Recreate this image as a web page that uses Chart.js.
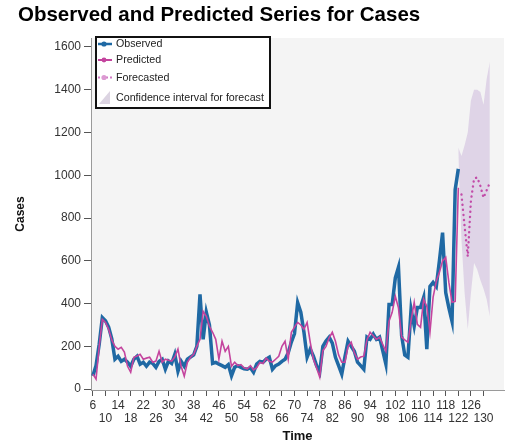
<!DOCTYPE html>
<html>
<head>
<meta charset="utf-8">
<script src="https://cdn.jsdelivr.net/npm/chart.js@4.4.1/dist/chart.umd.min.js"></script>
<style>
  html, body { margin: 0; padding: 0; background: #ffffff; }
  #wrap { position: relative; width: 509px; height: 444px; }
</style>
</head>
<body>
<div id="wrap"><canvas id="chart" width="509" height="444"></canvas></div>
<script>
const chartTitle = "Observed and Predicted Series for Cases";
const legendLabels = ["Observed", "Predicted", "Forecasted", "Confidence interval for forecast"];

const xTickValues = [6, 10, 14, 18, 22, 26, 30, 34, 38, 42, 46, 50, 54, 58, 62, 66, 70, 74, 78, 82, 86, 90, 94, 98, 102, 106, 110, 114, 118, 122, 126, 130];
const yTickValues = [0, 200, 400, 600, 800, 1000, 1200, 1400, 1600];

const timeSteps = [
  6, 7, 8, 9, 10, 11, 12, 13, 14, 15, 16, 17, 18, 19, 20, 21, 22, 23, 24, 25,
  26, 27, 28, 29, 30, 31, 32, 33, 34, 35, 36, 37, 38, 39, 40, 41, 42, 43, 44, 45,
  46, 47, 48, 49, 50, 51, 52, 53, 54, 55, 56, 57, 58, 59, 60, 61, 62, 63, 64, 65,
  66, 67, 68, 69, 70, 71, 72, 73, 74, 75, 76, 77, 78, 79, 80, 81, 82, 83, 84, 85,
  86, 87, 88, 89, 90, 91, 92, 93, 94, 95, 96, 97, 98, 99, 100, 101, 102, 103, 104, 105,
  106, 107, 108, 109, 110, 111, 112, 113, 114, 115, 116, 117, 118, 119, 120, 121, 122
];

const observedCases = [
  62, 110, 210, 335, 320, 290, 235, 140, 154, 130, 140, 126, 107, 140, 154, 117, 126, 107, 126, 120,
  102, 130, 140, 93, 131, 120, 163, 84, 131, 107, 140, 150, 160, 200, 443, 233, 360, 300, 120, 125,
  117, 110, 102, 115, 62, 102, 110, 102, 95, 93, 100, 79, 117, 130, 126, 140, 149, 93, 110, 117,
  130, 140, 170, 220, 260, 405, 360, 266, 149, 187, 154, 110, 79, 200, 225, 243, 215, 149, 110, 70,
  150, 224, 200, 177, 126, 110, 93, 243, 233, 257, 233, 243, 180, 117, 396, 396, 520, 570, 250, 160,
  149, 373, 295, 382, 382, 429, 187, 480, 499, 480, 600, 732, 452, 380, 317, 933, 1030
];

const predictedCases = [
  70, 47, 200, 326, 312, 280, 230, 200, 187, 196, 173, 107, 79, 149, 155, 163, 140, 145, 149, 126,
  131, 177, 126, 140, 135, 131, 150, 187, 107, 61, 126, 149, 163, 200, 233, 364, 341, 294, 266, 233,
  140, 224, 177, 200, 107, 126, 110, 115, 100, 95, 110, 90, 100, 125, 120, 145, 130, 126, 140, 154,
  200, 224, 140, 266, 290, 312, 300, 280, 312, 219, 140, 100, 56, 180, 200, 240, 266, 224, 160, 126,
  126, 200, 219, 170, 140, 150, 154, 230, 266, 250, 233, 243, 210, 177, 317, 359, 434, 380, 243, 230,
  219, 320, 406, 303, 289, 420, 387, 266, 430, 504, 546, 600, 616, 499, 406, 410, 942
];

const forecastTimes = [123, 124, 125, 126, 127, 128, 129, 130, 131, 132];
const forecastCases = [910, 760, 620, 880, 985, 990, 950, 895, 930, 965];

const bandTimes = [122, 123, 124, 125, 126, 127, 128, 129, 130, 131, 132];
const bandLower = [1100, 700, 450, 280, 450, 590, 560, 510, 470, 420, 340];
const bandUpper = [1130, 1090, 1140, 1200, 1350, 1400, 1400, 1390, 1330, 1450, 1530];

const BLUE = "#1f69a4";
const PINK = "#c4449e";
const DOT_PINK = "#c24ca8";
const BAND = "rgba(218, 206, 228, 0.85)";
const FONT = "'Liberation Sans', Arial, sans-serif";

function toPoints(xs, ys) {
  return xs.map((x, i) => ({ x: x, y: ys[i] }));
}

const plotBackground = {
  id: "plotBackground",
  beforeDraw(chart) {
    const { ctx, chartArea } = chart;
    ctx.save();
    ctx.fillStyle = "#f4f4f4";
    ctx.fillRect(chartArea.left, chartArea.top, chartArea.right - chartArea.left, chartArea.bottom - chartArea.top);
    ctx.restore();
  }
};

const titleAndLegend = {
  id: "titleAndLegend",
  afterDraw(chart) {
    const ctx = chart.ctx;
    ctx.save();

    // title
    ctx.fillStyle = "#000000";
    ctx.font = "bold 20.5px " + FONT;
    ctx.textBaseline = "middle";
    ctx.textAlign = "left";
    ctx.fillText(chartTitle, 18, 15);

    // legend box
    const left = 96, top = 37, width = 174, height = 71;
    ctx.fillStyle = "#ffffff";
    ctx.fillRect(left, top, width, height);
    ctx.strokeStyle = "#111111";
    ctx.lineWidth = 2;
    ctx.strokeRect(left, top, width, height);

    const rows = [44, 60, 77.5, 97.5];
    const sx0 = 98, sx1 = 112, mx = 104;

    ctx.lineWidth = 2.5;
    ctx.strokeStyle = BLUE;
    ctx.beginPath(); ctx.moveTo(sx0, rows[0]); ctx.lineTo(sx1, rows[0]); ctx.stroke();
    ctx.fillStyle = BLUE;
    ctx.beginPath(); ctx.arc(mx, rows[0], 2.6, 0, Math.PI * 2); ctx.fill();

    ctx.strokeStyle = PINK;
    ctx.lineWidth = 2;
    ctx.beginPath(); ctx.moveTo(sx0, rows[1]); ctx.lineTo(sx1, rows[1]); ctx.stroke();
    ctx.fillStyle = PINK;
    ctx.beginPath(); ctx.arc(mx, rows[1], 2.4, 0, Math.PI * 2); ctx.fill();

    ctx.strokeStyle = "#d27ac6";
    ctx.setLineDash([2, 2]);
    ctx.beginPath(); ctx.moveTo(sx0, rows[2]); ctx.lineTo(sx1, rows[2]); ctx.stroke();
    ctx.setLineDash([]);
    ctx.fillStyle = "#dc9ad2";
    ctx.beginPath(); ctx.arc(mx, rows[2], 2.6, 0, Math.PI * 2); ctx.fill();

    ctx.fillStyle = "#dcd4e2";
    ctx.beginPath();
    ctx.moveTo(99, 104); ctx.lineTo(110, 104); ctx.lineTo(110, 91); ctx.closePath();
    ctx.fill();

    ctx.fillStyle = "#222222";
    ctx.font = "10.7px " + FONT;
    legendLabels.forEach((label, i) => {
      ctx.fillText(label, 116, rows[i] + 0.5);
    });

    ctx.restore();
  }
};

const ctx = document.getElementById("chart");

new Chart(ctx, {
  type: "line",
  data: {
    datasets: [
      {
        label: "lower",
        data: toPoints(bandTimes, bandLower),
        borderWidth: 0,
        borderColor: "rgba(0,0,0,0)",
        pointRadius: 0,
        fill: false,
        tension: 0,
        order: 6
      },
      {
        label: legendLabels[3],
        data: toPoints(bandTimes, bandUpper),
        borderWidth: 0,
        borderColor: "rgba(0,0,0,0)",
        backgroundColor: BAND,
        pointRadius: 0,
        fill: "-1",
        tension: 0,
        order: 5
      },
      {
        label: legendLabels[0],
        data: toPoints(timeSteps, observedCases),
        borderColor: BLUE,
        borderWidth: 3.5,
        pointRadius: 0,
        tension: 0,
        order: 3
      },
      {
        label: legendLabels[1],
        data: toPoints(timeSteps, predictedCases),
        borderColor: PINK,
        borderWidth: 1.6,
        pointRadius: 0,
        tension: 0,
        order: 2
      },
      {
        label: legendLabels[2],
        data: toPoints(forecastTimes, forecastCases),
        borderColor: DOT_PINK,
        borderWidth: 2.4,
        borderDash: [0.1, 5],
        borderCapStyle: "round",
        pointRadius: 0,
        tension: 0,
        order: 1
      }
    ]
  },
  options: {
    responsive: false,
    animation: false,
    layout: {
      padding: { top: 38, right: 5, bottom: 0, left: 0 }
    },
    plugins: {
      legend: { display: false },
      title: { display: false },
      tooltip: { enabled: false }
    },
    scales: {
      x: {
        type: "linear",
        min: 5.4,
        max: 136.5,
        afterBuildTicks: scale => {
          scale.ticks = xTickValues.map(v => ({ value: v }));
        },
        afterFit: scale => {
          scale.height = 54;
        },
        ticks: {
          autoSkip: false,
          maxRotation: 0,
          minRotation: 0,
          padding: 3,
          color: "#333333",
          font: { family: FONT, size: 12, lineHeight: 1.1 },
          callback: function (value, index) {
            return index % 2 === 0 ? String(value) : ["", String(value)];
          }
        },
        grid: {
          drawOnChartArea: false,
          drawTicks: true,
          tickLength: 6,
          tickWidth: 1,
          tickColor: "#555555"
        },
        border: { display: true, color: "#9a9a9a", width: 1 },
        title: {
          display: true,
          text: "Time",
          color: "#111111",
          font: { family: FONT, size: 13, weight: "bold" },
          padding: { top: 0, bottom: 0 }
        }
      },
      y: {
        min: -4,
        max: 1642,
        afterBuildTicks: scale => {
          scale.ticks = yTickValues.map(v => ({ value: v }));
        },
        afterFit: scale => {
          scale.width = 91;
        },
        ticks: {
          padding: 3,
          color: "#333333",
          font: { family: FONT, size: 12 },
          callback: value => String(value)
        },
        grid: {
          drawOnChartArea: false,
          drawTicks: true,
          tickLength: 7,
          tickWidth: 1,
          tickColor: "#555555"
        },
        border: { display: true, color: "#9a9a9a", width: 1 },
        title: {
          display: true,
          text: "Cases",
          color: "#111111",
          font: { family: FONT, size: 12, weight: "bold" },
          padding: { top: 13, bottom: 0 }
        }
      }
    }
  },
  plugins: [plotBackground, titleAndLegend]
});
</script>
</body>
</html>
